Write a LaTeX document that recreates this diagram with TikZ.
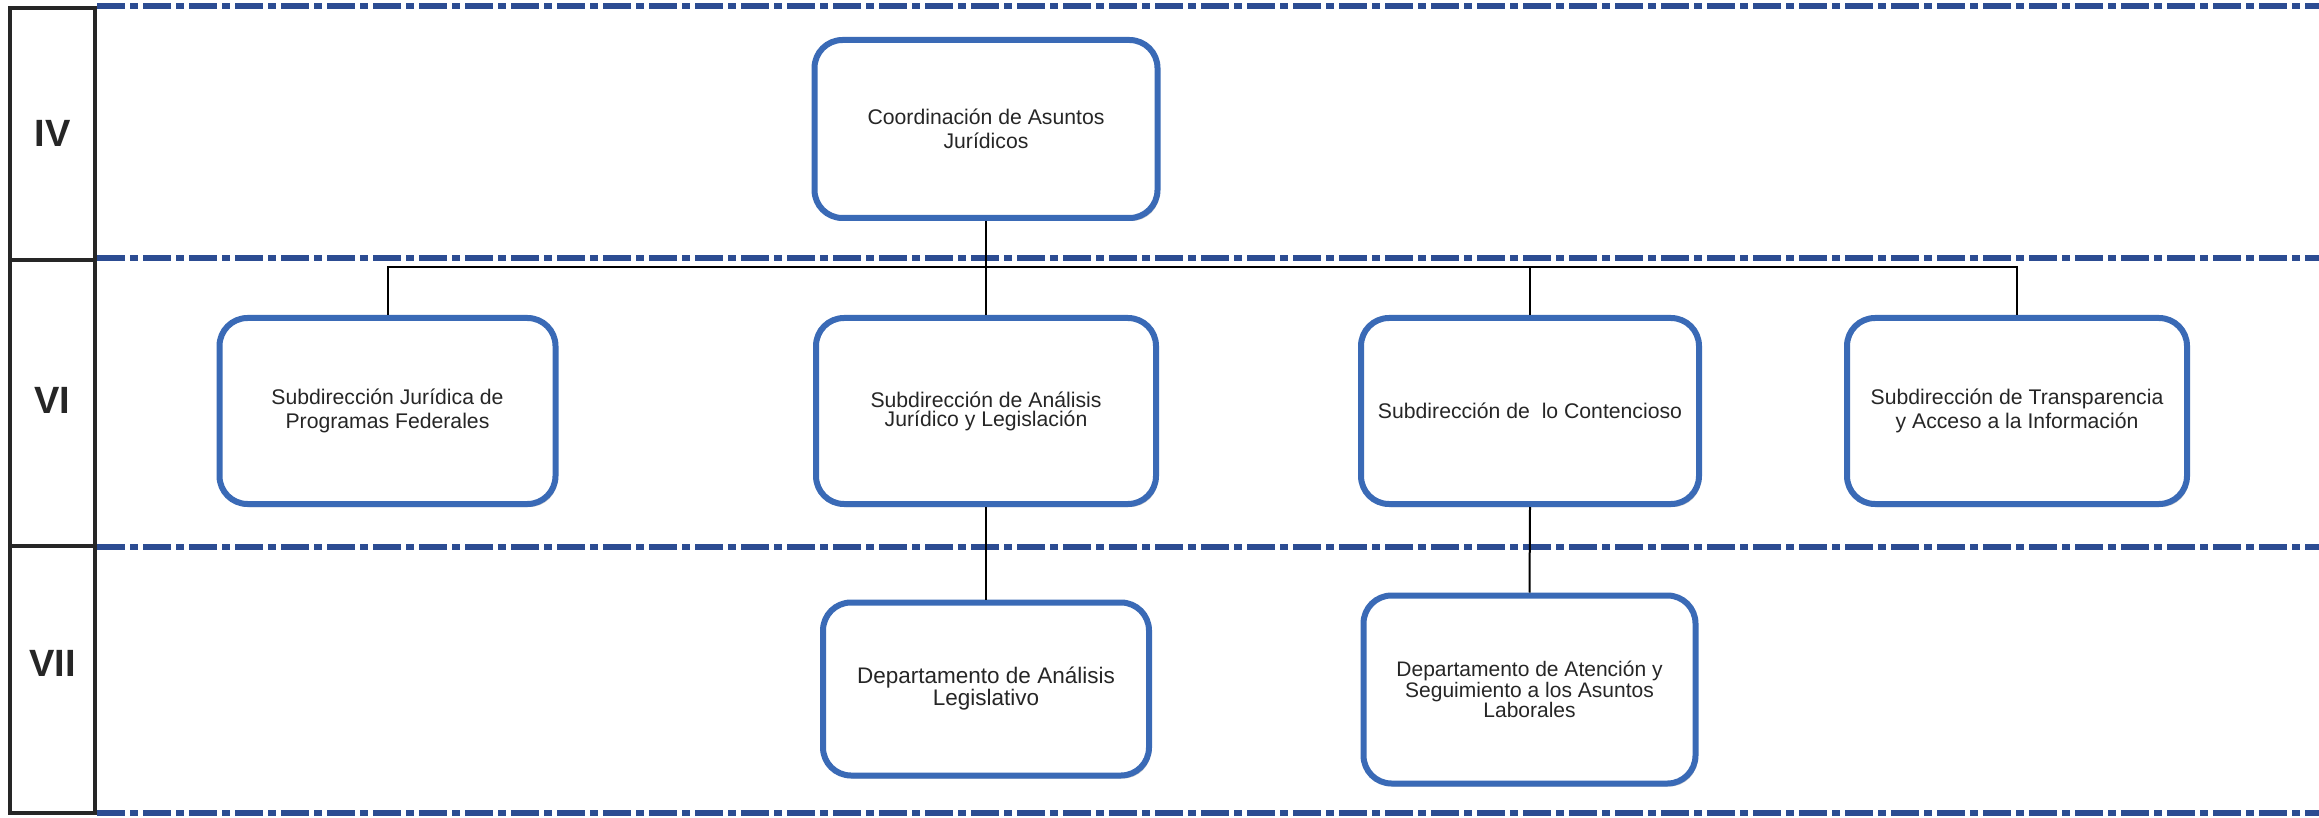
\documentclass[tikz,border=0pt]{standalone}
\usepackage{fontspec}
\setmainfont{Liberation Sans}
\usetikzlibrary{shadows}
\definecolor{boxblue}{RGB}{58,106,182}
\definecolor{dashblue}{RGB}{44,76,146}
\tikzset{
  orgbox/.style={draw=boxblue, line width=6pt, rounded corners=28pt, fill=white,
    align=center, inner sep=0pt, text=black!85,
    font=\fontsize{21.2}{23.5}\selectfont,
    drop shadow={shadow xshift=2pt, shadow yshift=-3pt, opacity=0.35, fill=black!60}},
  levelline/.style={dashblue, line width=5.5pt, dash pattern=on 28pt off 5pt on 8pt off 5pt},
  framecol/.style={black!85, line width=4pt},
  levellabel/.style={font=\fontsize{38}{38}\selectfont\bfseries, text=black!85, inner sep=0pt},
  conn/.style={black, line width=2pt}
}
\begin{document}
\begin{tikzpicture}[x=1pt,y=-1pt]
\useasboundingbox[fill=white] (0,0) rectangle (2319,818);

% level dashed lines
\draw[levelline] (97,6) -- (2319,6);
\draw[levelline] (97,258) -- (2319,258);
\draw[levelline] (97,547) -- (2319,547);
\draw[levelline] (97,813) -- (2319,813);

% left column
\draw[framecol] (10,8) rectangle (95,813);
\draw[framecol] (10,260) -- (95,260);
\draw[framecol] (10,546) -- (95,546);
\node[levellabel] (lIV) at (52.5,133) {IV};
\node[levellabel] (lVI) at (52.5,400) {VI};
\node[levellabel] (lVII) at (52.5,663) {VII};

% boxes
\node[orgbox, minimum width=343pt, minimum height=178pt] (top) at (986,129)
  {Coordinación de Asuntos\\Jurídicos};
\node[orgbox, minimum width=336pt, minimum height=186pt] (b1) at (387.5,411)
  {Subdirección Jurídica de\\Programas Federales};
\node[orgbox, minimum width=340pt, minimum height=186pt, font=\fontsize{21.2}{19}\selectfont] (b2) at (986,411)
  {Subdirección de Análisis\\Jurídico y Legislación};
\node[orgbox, minimum width=338pt, minimum height=186pt] (b3) at (1530,411)
  {Subdirección de\ \ lo Contencioso};
\node[orgbox, minimum width=340pt, minimum height=186pt, font=\fontsize{21.2}{24.5}\selectfont] (b4) at (2017,411)
  {Subdirección de Transparencia\\y Acceso a la Información};
\node[orgbox, minimum width=326pt, minimum height=173pt, font=\fontsize{22.5}{20}\selectfont] (b5) at (986,689)
  {Departamento de Análisis\\Legislativo};
\node[orgbox, minimum width=332pt, minimum height=188pt, font=\fontsize{21}{18.5}\selectfont] (b6) at (1529.5,689.5)
  {Departamento de Atención y\\Seguimiento a los Asuntos\\Laborales};

% connectors
\coordinate (bus) at (0,267);
\draw[conn] (top.south) -- (b2.north);
\draw[conn] (b1.north) -- (b1.north |- bus) -- (b4.north |- bus) -- (b4.north);
\draw[conn] (b3.north |- bus) -- (b3.north);
\draw[conn] (b2.south) -- (b5.north);
\draw[conn] (b3.south) -- (b6.north);
\end{tikzpicture}
\end{document}
